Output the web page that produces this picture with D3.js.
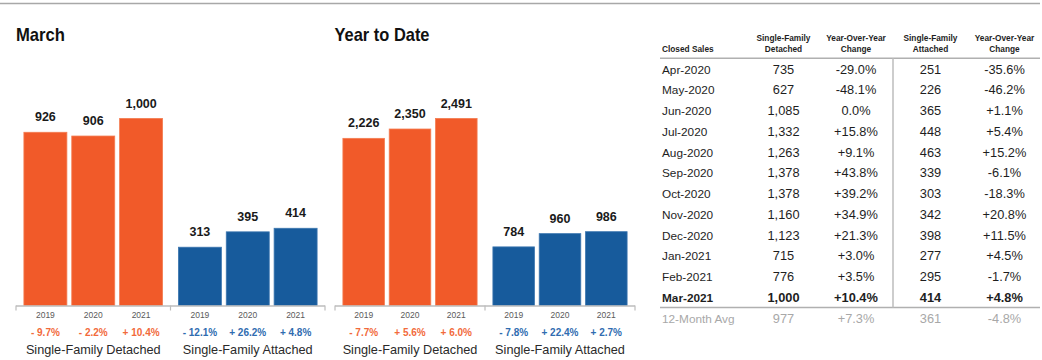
<!DOCTYPE html>
<html>
<head>
<meta charset="utf-8">
<script src="https://cdn.jsdelivr.net/npm/d3@7"></script>
<style>
  html, body { margin: 0; padding: 0; background: #fff; }
  svg { display: block; font-family: "Liberation Sans", Arial, Helvetica, sans-serif; }
</style>
</head>
<body>
<svg id="chart" width="1042" height="360"></svg>
<script>
// ---------- DATA ----------
const groups = ["Single-Family Detached", "Single-Family Attached"];
const years = ["2019", "2020", "2021"];

const marchDetached = [926, 906, 1000];
const marchAttached = [313, 395, 414];
const marchDetachedChg = ["- 9.7%", "- 2.2%", "+ 10.4%"];
const marchAttachedChg = ["- 12.1%", "+ 26.2%", "+ 4.8%"];

const ytdDetached = [2226, 2350, 2491];
const ytdAttached = [784, 960, 986];
const ytdDetachedChg = ["- 7.7%", "+ 5.6%", "+ 6.0%"];
const ytdAttachedChg = ["- 7.8%", "+ 22.4%", "+ 2.7%"];

const tableHeaders = ["Closed Sales", "Single-Family|Detached", "Year-Over-Year|Change", "Single-Family|Attached", "Year-Over-Year|Change"];
const months = ["Apr-2020","May-2020","Jun-2020","Jul-2020","Aug-2020","Sep-2020","Oct-2020","Nov-2020","Dec-2020","Jan-2021","Feb-2021","Mar-2021"];
const detachedSales = [735, 627, 1085, 1332, 1263, 1378, 1378, 1160, 1123, 715, 776, 1000];
const detachedChg = ["-29.0%","-48.1%","0.0%","+15.8%","+9.1%","+43.8%","+39.2%","+34.9%","+21.3%","+3.0%","+3.5%","+10.4%"];
const attachedSales = [251, 226, 365, 448, 463, 339, 303, 342, 398, 277, 295, 414];
const attachedChg = ["-35.6%","-46.2%","+1.1%","+5.4%","+15.2%","-6.1%","-18.3%","+20.8%","+11.5%","+4.5%","-1.7%","+4.8%"];
const avgRow = ["12-Month Avg", 977, "+7.3%", 361, "-4.8%"];

// ---------- STYLE ----------
const ORANGE = "#f15a29", BLUE = "#175b9c";
const ORANGE_TXT = "#f26a3b", BLUE_TXT = "#2f6cb0";
const fmt = d3.format(",");

const svg = d3.select("#chart");

// top rule
svg.append("line").attr("x1", 0).attr("x2", 1040).attr("y1", 3.5).attr("y2", 3.5)
  .attr("stroke", "#a8a8a8").attr("stroke-width", 1.6);

function panel(opts) {
  const { title, x0, x1, detached, attached, dChg, aChg } = opts;
  const baseline = 305.5;
  const g = svg.append("g");

  g.append("text").attr("x", opts.titleX).attr("y", 40.5)
    .attr("font-family", "'Liberation Sans Narrow', 'Arial Narrow', sans-serif")
    .attr("font-weight", "bold").attr("font-size", 19).attr("fill", "#111")
    .attr("textLength", opts.titleW).attr("lengthAdjust", "spacingAndGlyphs")
    .text(title);

  const xg = d3.scaleBand().domain(groups).range([x0, x1]).padding(0);
  const bw = xg.bandwidth();
  const xi = d3.scaleBand().domain(years).range([7.5, bw - 7.5]).paddingInner(0.085).paddingOuter(0);
  const maxV = d3.max(detached.concat(attached));
  const y = d3.scaleLinear().domain([0, maxV]).range([baseline, 118]);

  const series = [
    { key: groups[0], vals: detached, chg: dChg, color: ORANGE, edge: "#f47d52", tcolor: ORANGE_TXT },
    { key: groups[1], vals: attached, chg: aChg, color: BLUE, edge: "#3d77b0", tcolor: BLUE_TXT }
  ];

  series.forEach(s => {
    const gg = g.append("g").attr("transform", `translate(${xg(s.key)},0)`);
    const data = years.map((yr, i) => ({ yr, v: s.vals[i], c: s.chg[i] }));
    gg.selectAll("rect").data(data).join("rect")
      .attr("x", d => xi(d.yr) + 0.4).attr("width", xi.bandwidth() - 0.8)
      .attr("y", d => y(d.v) + 0.4).attr("height", d => baseline - y(d.v) - 0.4)
      .attr("fill", s.color).attr("stroke", s.edge).attr("stroke-width", 0.8);
    gg.selectAll("text.val").data(data).join("text").attr("class", "val")
      .attr("x", d => xi(d.yr) + xi.bandwidth() / 2).attr("y", d => y(d.v) - 10.5)
      .attr("text-anchor", "middle").attr("font-weight", "bold").attr("font-size", 12.5).attr("fill", "#1a1a1a")
      .text(d => fmt(d.v));
    gg.selectAll("text.yr").data(data).join("text").attr("class", "yr")
      .attr("x", d => xi(d.yr) + xi.bandwidth() / 2).attr("y", 318)
      .attr("text-anchor", "middle").attr("font-size", 8.5).attr("fill", "#5a5a5a")
      .text(d => d.yr);
    gg.selectAll("text.chg").data(data).join("text").attr("class", "chg")
      .attr("x", d => xi(d.yr) + xi.bandwidth() / 2).attr("y", 335.5)
      .attr("text-anchor", "middle").attr("font-weight", "bold").attr("font-size", 10).attr("fill", s.tcolor)
      .text(d => d.c);
    gg.append("text").attr("x", bw / 2).attr("y", 354)
      .attr("text-anchor", "middle").attr("font-size", 12.7).attr("fill", "#2a2a2a")
      .text(s.key);
  });

  // axis baseline with group ticks
  g.append("line").attr("x1", x0).attr("x2", x1).attr("y1", baseline + 0.5).attr("y2", baseline + 0.5)
    .attr("stroke", "#bdbdbd").attr("stroke-width", 1.5);
  const ticks = [x0, xg(groups[1]), x1];
  g.selectAll("line.tk").data(ticks).join("line").attr("class", "tk")
    .attr("x1", d => d).attr("x2", d => d).attr("y1", baseline).attr("y2", baseline + 5)
    .attr("stroke", "#bdbdbd").attr("stroke-width", 1.2);
}

panel({ title: "March", titleX: 16, titleW: 49, x0: 16, x1: 325,
  detached: marchDetached, attached: marchAttached, dChg: marchDetachedChg, aChg: marchAttachedChg });
panel({ title: "Year to Date", titleX: 334.5, titleW: 95, x0: 335, x1: 635,
  detached: ytdDetached, attached: ytdAttached, dChg: ytdDetachedChg, aChg: ytdAttachedChg });

// ---------- TABLE ----------
const tg = svg.append("g");
const colX = [662, 783.5, 856, 930.5, 1004.5];
const rowY0 = 69.3, rowStep = 20.75;

tableHeaders.forEach((h, i) => {
  const parts = h.split("|");
  const anchor = i === 0 ? "start" : "middle";
  if (parts.length === 1) {
    tg.append("text").attr("x", colX[i]).attr("y", 52.3).attr("text-anchor", anchor)
      .attr("font-size", 8.3).attr("font-weight", "bold").attr("fill", "#1e1e1e").text(parts[0]);
  } else {
    tg.append("text").attr("x", colX[i]).attr("y", 41.2).attr("text-anchor", anchor)
      .attr("font-size", 8.3).attr("font-weight", "bold").attr("fill", "#1e1e1e").text(parts[0]);
    tg.append("text").attr("x", colX[i]).attr("y", 51.8).attr("text-anchor", anchor)
      .attr("font-size", 8.3).attr("font-weight", "bold").attr("fill", "#1e1e1e").text(parts[1]);
  }
});

tg.append("line").attr("x1", 660).attr("x2", 1040).attr("y1", 58.3).attr("y2", 58.3)
  .attr("stroke", "#b0b0b0").attr("stroke-width", 1.6);

const rows = months.map((m, i) => [m, fmt(detachedSales[i]), detachedChg[i], fmt(attachedSales[i]), attachedChg[i]]);
rows.forEach((r, i) => {
  const yy = rowY0 + i * rowStep + 4.3;
  const bold = i === rows.length - 1;
  r.forEach((cell, j) => {
    tg.append("text").attr("x", colX[j]).attr("y", yy)
      .attr("text-anchor", j === 0 ? "start" : "middle")
      .attr("font-size", j === 0 ? 11.8 : 12.8)
      .attr("font-weight", bold ? "bold" : "normal")
      .attr("fill", "#1e1e1e").text(cell);
  });
});

const lastLineY = 307.5;
tg.append("line").attr("x1", 660).attr("x2", 1040).attr("y1", lastLineY).attr("y2", lastLineY)
  .attr("stroke", "#b0b0b0").attr("stroke-width", 1.6);
tg.append("line").attr("x1", 893).attr("x2", 893).attr("y1", 58.3).attr("y2", lastLineY)
  .attr("stroke", "#bdbdbd").attr("stroke-width", 1.5);

const avgCells = [avgRow[0], fmt(avgRow[1]), avgRow[2], fmt(avgRow[3]), avgRow[4]];
avgCells.forEach((cell, j) => {
  tg.append("text").attr("x", colX[j]).attr("y", rowY0 + 12 * rowStep + 4.3)
    .attr("text-anchor", j === 0 ? "start" : "middle")
    .attr("font-size", j === 0 ? 11.8 : 12.8)
    .attr("fill", "#a8a8a8").text(cell);
});
</script>
</body>
</html>
